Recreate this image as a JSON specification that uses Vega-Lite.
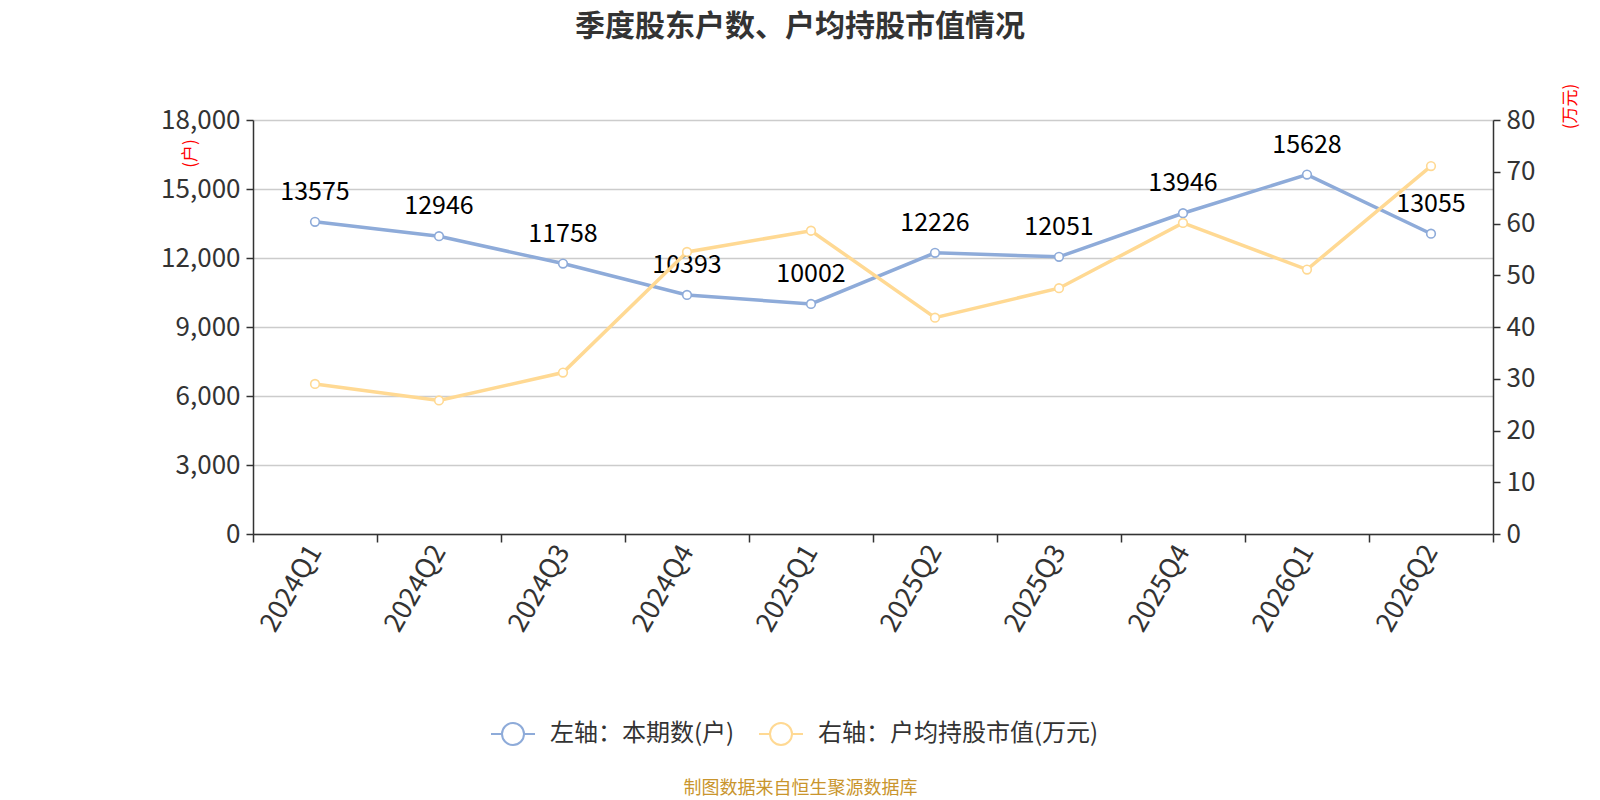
{
  "$schema": "https://vega.github.io/schema/vega-lite/v6.json",
  "autosize": {"type": "none"},
  "padding": {"left": 253, "top": 120, "right": 107, "bottom": 266},
  "width": 1240,
  "height": 414,
  "background": "white",
  "title": {
    "text": "季度股东户数、户均持股市值情况",
    "font": "Noto Sans CJK SC",
    "fontSize": 30,
    "fontWeight": "bold",
    "color": "#333333",
    "anchor": "middle",
    "dx": -73,
    "offset": 41
  },
  "data": {
    "values": [
      {"quarter": "2024Q1", "holders": 13575, "avg_value": 29.0},
      {"quarter": "2024Q2", "holders": 12946, "avg_value": 25.8},
      {"quarter": "2024Q3", "holders": 11758, "avg_value": 31.2},
      {"quarter": "2024Q4", "holders": 10393, "avg_value": 54.5},
      {"quarter": "2025Q1", "holders": 10002, "avg_value": 58.6},
      {"quarter": "2025Q2", "holders": 12226, "avg_value": 41.8},
      {"quarter": "2025Q3", "holders": 12051, "avg_value": 47.5},
      {"quarter": "2025Q4", "holders": 13946, "avg_value": 60.1},
      {"quarter": "2026Q1", "holders": 15628, "avg_value": 51.1},
      {"quarter": "2026Q2", "holders": 13055, "avg_value": 71.1}
    ]
  },
  "encoding": {
    "x": {
      "field": "quarter",
      "type": "ordinal",
      "sort": null,
      "scale": {"type": "band", "paddingInner": 0, "paddingOuter": 0},
      "axis": {
        "title": "制图数据来自恒生聚源数据库",
        "titleFont": "Noto Sans CJK SC",
        "titleFontSize": 18,
        "titleFontWeight": "normal",
        "titleColor": "#c9952d",
        "titleX": 547,
        "titleY": 254,
        "titleAlign": "center",
        "titleBaseline": "middle",
        "labelAngle": -60,
        "labelAlign": "right",
        "labelBaseline": "middle",
        "labelFont": "Noto Sans CJK SC",
        "labelFontSize": 27,
        "labelColor": "#333333",
        "labelPadding": 5,
        "tickBand": "extent",
        "tickSize": 8,
        "tickColor": "#333333",
        "tickWidth": 1.5,
        "domainColor": "#333333",
        "domainWidth": 1.5,
        "grid": false
      }
    }
  },
  "layer": [
    {
      "encoding": {
        "y": {
          "field": "holders",
          "type": "quantitative",
          "scale": {"domain": [0, 18000]},
          "axis": {
            "title": "(户)",
            "titleColor": "red",
            "titleFont": "Noto Sans CJK SC",
            "titleFontSize": 17,
            "titleFontWeight": "normal",
            "titleAngle": -90,
            "titleX": -63,
            "titleY": 33,
            "titleAlign": "center",
            "titleBaseline": "middle",
            "values": [0, 3000, 6000, 9000, 12000, 15000, 18000],
            "format": ",.0f",
            "labelFont": "Noto Sans CJK SC",
            "labelFontSize": 26,
            "labelColor": "#333333",
            "labelPadding": 6,
            "tickSize": 7,
            "tickColor": "#333333",
            "tickWidth": 1.5,
            "domainColor": "#333333",
            "domainWidth": 1.5,
            "gridColor": "#cccccc",
            "gridWidth": 1.5
          }
        }
      },
      "layer": [
        {
          "mark": {
            "type": "line",
            "strokeWidth": 3.5,
            "point": {"filled": false, "fill": "white", "size": 75, "strokeWidth": 1.6}
          },
          "encoding": {
            "color": {
              "datum": "左轴：本期数(户)",
              "type": "nominal",
              "scale": {
                "domain": ["左轴：本期数(户)", "右轴：户均持股市值(万元)"],
                "range": ["#8eabd9", "#ffd993"]
              },
              "legend": {
                "title": null,
                "orient": "none",
                "direction": "horizontal",
                "legendX": 237,
                "legendY": 591,
                "symbolType": "M-1,0L-0.5,0M0.5,0L1,0M-0.5,0A0.5,0.5,0,1,1,0.5,0A0.5,0.5,0,1,1,-0.5,0",
                "symbolSize": 1936,
                "symbolStrokeWidth": 2,
                "symbolFillColor": "white",
                "labelFont": "Noto Sans CJK SC",
                "labelFontSize": 24,
                "labelColor": "#333333",
                "labelLimit": 0,
                "labelOffset": 14,
                "columnPadding": 20
              }
            }
          }
        },
        {
          "mark": {
            "type": "text",
            "font": "Noto Sans CJK SC",
            "fontSize": 25,
            "color": "#000000",
            "dy": -30,
            "baseline": "middle"
          },
          "encoding": {
            "text": {"field": "holders", "type": "quantitative", "format": "d"}
          }
        }
      ]
    },
    {
      "mark": {
        "type": "line",
        "strokeWidth": 3.5,
        "point": {"filled": false, "fill": "white", "size": 75, "strokeWidth": 1.6}
      },
      "encoding": {
        "y": {
          "field": "avg_value",
          "type": "quantitative",
          "scale": {"domain": [0, 80]},
          "axis": {
            "orient": "right",
            "title": "(万元)",
            "titleColor": "red",
            "titleFont": "Noto Sans CJK SC",
            "titleFontSize": 17,
            "titleFontWeight": "normal",
            "titleAngle": -90,
            "titleX": 77,
            "titleY": -14,
            "titleAlign": "center",
            "titleBaseline": "middle",
            "values": [0, 10, 20, 30, 40, 50, 60, 70, 80],
            "labelFont": "Noto Sans CJK SC",
            "labelFontSize": 26,
            "labelColor": "#333333",
            "labelPadding": 6,
            "tickSize": 7,
            "tickColor": "#333333",
            "tickWidth": 1.5,
            "domainColor": "#333333",
            "domainWidth": 1.5,
            "grid": false
          }
        },
        "color": {"datum": "右轴：户均持股市值(万元)", "type": "nominal"}
      }
    }
  ],
  "resolve": {"scale": {"y": "independent"}},
  "config": {
    "view": {"stroke": null}
  }
}
